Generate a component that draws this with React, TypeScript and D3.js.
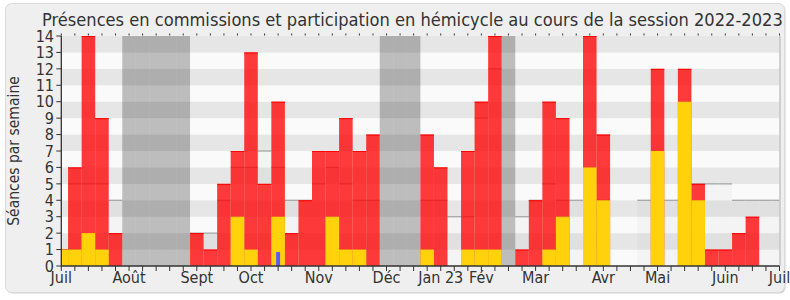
import React from "react";
import * as d3 from "d3";

const presences = [1, 6, 14, 9, 2, 0, 0, 0, 0, 0, 2, 1, 5, 7, 13, 5, 10, 2, 4, 7, 7, 9, 7, 8, 0, 0, 0, 8, 6, 0, 7, 10, 14, 0, 1, 4, 10, 9, 0, 14, 8, 0, 0, 0, 12, 0, 12, 5, 1, 1, 2, 3, 0, 0];
const hemicycle = [1, 1, 2, 1, 0, 0, 0, 0, 0, 0, 0, 0, 0, 3, 1, 0, 3, 0, 0, 0, 3, 1, 1, 0, 0, 0, 0, 1, 0, 0, 1, 1, 1, 0, 0, 0, 1, 3, 0, 6, 4, 0, 0, 0, 7, 0, 10, 4, 0, 0, 0, 0, 0, 0];
const questions = [0, 0, 0, 0, 0, 0, 0, 0, 0, 0, 0, 0, 0, 0, 0, 0, 0.85, 0, 0, 0, 0, 0, 0, 0, 0, 0, 0, 0, 0, 0, 0, 0, 0, 0, 0, 0, 0, 0, 0, 0, 0, 0, 0, 0, 0, 0, 0, 0, 0, 0, 0, 0, 0, 0];
const medianes = [1, 5, 5, 5, 4, 0, 0, 0, 0, 0, 2, 2, 4, 6, 6, 7, 6, 4, 4, 5, 6, 5, 4, 4, 0, 0, 0, 4, 4, 3, 3, 9, 12, 0, 3, 4, 5, 4, 4, 5, 4, 0, 0, 4, 4, 4, 4, 5, 5, 5, 4, 4, 4, 4];
const vacances = [5, 6, 7, 8, 9, 24, 25, 26, 33];
const monthLabels = ["Juil", "Août", "Sept", "Oct", "Nov", "Déc", "Jan 23", "Fév", "Mar", "Avr", "Mai", "Juin", "Juil"];
const monthWeeks = [0, 5, 10, 14, 19, 24, 28, 31, 35, 40, 44, 49, 53];
const yTicks = d3.range(0, 15);
const title = "Présences en commissions et participation en hémicycle au cours de la session 2022-2023";
const yTitle = "Séances par semaine";

const W = 790;
const H = 300;
const FONT = "'DejaVu Sans Condensed', 'DejaVu Sans', sans-serif";

export default function App() {
  const nWeeks = presences.length - 1;
  const x = d3.scaleLinear().domain([0, nWeeks]).range([61.3, 779.5]);
  const y = d3.scaleLinear().domain([0, 14]).range([266, 36]);
  const left = x(0);
  const right = x(nWeeks);
  const bx0 = (i: number) => Math.max(left, x(i - 0.5));
  const bx1 = (i: number) => Math.min(right, x(i + 0.5));
  const weeks = d3.range(presences.length);
  const bands = d3.range(0, 14);

  return (
    <svg width={W} height={H} style={{ position: "absolute", left: 0, top: 0 }} fontFamily={FONT} fontStretch="condensed">
      <rect x={0} y={0} width={W} height={H} fill="#ffffff" />
      <rect x={6.5} y={4.5} width={779} height={289} rx={6} fill="#d2d2d2" />
      <rect x={5.5} y={3.5} width={779} height={289} rx={6} fill="#efefef" stroke="#dadada" />
      <text x={42} y={26} fontSize={18.1} fill="#333">{title}</text>

      {bands.map((k) => (
        <rect key={"b" + k} x={left} width={right - left} y={y(k + 1)} height={y(k) - y(k + 1)} fill={k % 2 === 1 ? "#e6e6e6" : "#fafafa"} />
      ))}

      {weeks.map((i) =>
        medianes[i] > 0 ? (
          <rect key={"ma" + i} x={bx0(i)} width={bx1(i) - bx0(i)} y={y(medianes[i])} height={y(0) - y(medianes[i])} fill="rgba(0,0,0,0.025)" />
        ) : null
      )}
      {weeks.map((i) =>
        medianes[i] > 0 ? (
          <line key={"ml" + i} x1={bx0(i)} x2={bx1(i)} y1={y(medianes[i])} y2={y(medianes[i])} stroke="#a6a6a6" strokeWidth={1.3} />
        ) : null
      )}

      {vacances.map((i) => (
        <rect key={"v" + i} x={bx0(i)} width={bx1(i) - bx0(i)} y={y(14)} height={y(0) - y(14)} fill="rgba(0,0,0,0.245)" />
      ))}

      {weeks.map((i) =>
        presences[i] > 0 ? (
          <g key={"r" + i}>
            <rect x={bx0(i)} width={bx1(i) - bx0(i)} y={y(presences[i])} height={y(0) - y(presences[i])} fill="rgba(255,0,0,0.77)" />
            <line x1={bx0(i)} x2={bx1(i)} y1={y(presences[i]) + 0.5} y2={y(presences[i]) + 0.5} stroke="#ff0000" strokeWidth={1} />
          </g>
        ) : null
      )}
      {weeks.map((i) =>
        hemicycle[i] > 0 ? (
          <rect key={"h" + i} x={bx0(i)} width={bx1(i) - bx0(i)} y={y(hemicycle[i])} height={y(0) - y(hemicycle[i])} fill="#ffd20c" />
        ) : null
      )}
      {weeks.map((i) =>
        questions[i] > 0 ? (
          <rect key={"q" + i} x={x(i) - 2} width={4} y={y(questions[i])} height={y(0) - y(questions[i])} fill="#5c5cf2" />
        ) : null
      )}

      <line x1={right + 0.5} x2={right + 0.5} y1={y(14)} y2={y(0)} stroke="#c4c4c4" strokeWidth={1.5} />
      <line x1={left} x2={left} y1={y(14)} y2={y(0) + 0.5} stroke="#333" strokeWidth={1.3} />
      <line x1={left} x2={right} y1={y(0)} y2={y(0)} stroke="#333" strokeWidth={1.3} />

      {yTicks.map((t) => (
        <g key={"yt" + t}>
          <line x1={left - 5} x2={left} y1={y(t)} y2={y(t)} stroke="#333" strokeWidth={1} />
          <text x={54} y={y(t)} dy="0.36em" textAnchor="end" fontSize={16} fill="#333">{t}</text>
        </g>
      ))}

      {d3.range(0, nWeeks + 1).map((i) => (
        <g key={"xt" + i}>
          <line x1={x(i)} x2={x(i)} y1={y(0)} y2={y(0) + 5} stroke="#333" strokeWidth={1} />
          <line x1={x(i)} x2={x(i)} y1={y(14) - 2.5} y2={y(14) - 0.5} stroke="#333" strokeWidth={1} />
        </g>
      ))}

      {monthLabels.map((m, j) => (
        <text key={"m" + j} x={x(monthWeeks[j])} y={283} textAnchor="middle" fontSize={16} fill="#333">{m}</text>
      ))}

      <text transform={`translate(19,${(y(0) + y(14)) / 2}) rotate(-90)`} textAnchor="middle" fontSize={15.5} fill="#333">{yTitle}</text>
    </svg>
  );
}
